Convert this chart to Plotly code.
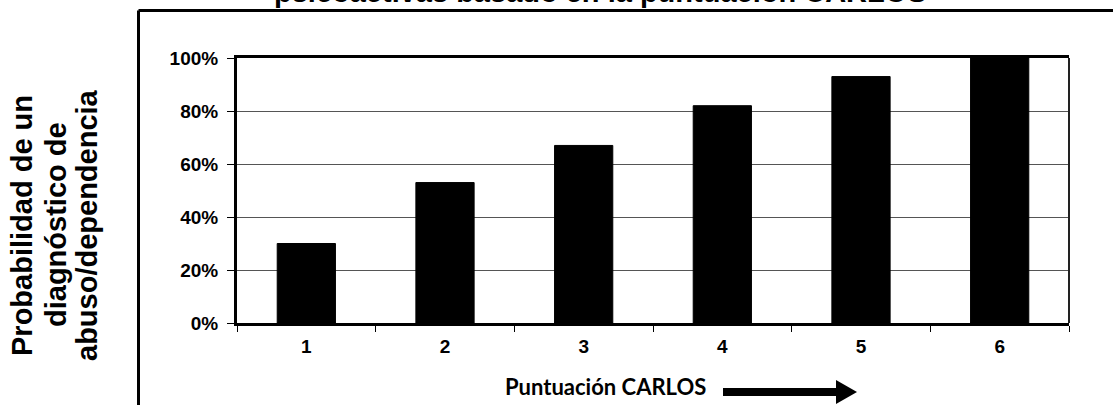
import plotly.graph_objects as go

# Data
categories = ["1", "2", "3", "4", "5", "6"]
probabilities = [0.30, 0.53, 0.67, 0.82, 0.93, 1.00]
y_ticks = [0, 0.2, 0.4, 0.6, 0.8, 1.0]
y_tick_labels = ["0%", "20%", "40%", "60%", "80%", "100%"]

title_text = "psicoactivas basado en la puntuación CARLOS"
x_title = "Puntuación CARLOS"
y_title_lines = ["Probabilidad de un", "diagnóstico de", "abuso/dependencia"]

W, H = 1113, 405
PL, PR, PT, PB = 237, 1069, 58, 323   # plot area in page pixels
L, R, T, B = PL, W - PR, PT, H - PB

ARIAL = "Liberation Sans, Arial"

fig = go.Figure(
    go.Bar(
        x=categories,
        y=probabilities,
        marker=dict(color="#000000", line=dict(color="#000000", width=1)),
        width=0.42,
    )
)

fig.update_layout(
    width=W,
    height=H,
    margin=dict(l=L, r=R, t=T, b=B, pad=0),
    paper_bgcolor="white",
    plot_bgcolor="white",
    showlegend=False,
    font=dict(family=ARIAL, color="black"),
)

fig.update_xaxes(
    type="category",
    tickson="boundaries",
    ticks="outside",
    ticklen=6,
    tickwidth=1,
    tickcolor="black",
    showline=True,
    linewidth=3,
    linecolor="black",
    mirror=True,
    showgrid=False,
    ticklabelstandoff=4,
    tickfont=dict(size=19, family=ARIAL, color="black", weight="bold"),
)

fig.update_yaxes(
    range=[0, 1],
    tickvals=y_ticks,
    ticktext=y_tick_labels,
    ticks="outside",
    ticklen=7,
    tickwidth=1,
    tickcolor="black",
    showline=True,
    linewidth=3,
    linecolor="black",
    showgrid=True,
    gridcolor="#555555",
    gridwidth=1,
    zeroline=False,
    ticklabelstandoff=5,
    tickfont=dict(size=19, family=ARIAL, color="black", weight="bold"),
)

pw = PR - PL
ph = PB - PT

def px_x(px):
    return (px - PL) / pw

def px_y(py):
    return (PB - py) / ph

shapes = [
    # right border of plot area
    dict(type="line", xref="paper", yref="paper", x0=1, x1=1, y0=0, y1=1,
         line=dict(color="#222222", width=2)),
    # outer frame (left and top)
    dict(type="line", xref="paper", yref="paper", x0=px_x(138.5), x1=px_x(138.5),
         y0=px_y(10.5), y1=px_y(430), line=dict(color="black", width=3)),
    dict(type="line", xref="paper", yref="paper", x0=px_x(138.5), x1=px_x(1140),
         y0=px_y(10.5), y1=px_y(10.5), line=dict(color="black", width=3)),
    # arrow shaft
    dict(type="line", xref="paper", yref="paper", x0=px_x(723), x1=px_x(838),
         y0=px_y(392), y1=px_y(392), line=dict(color="black", width=8)),
    # arrow head
    dict(type="path", xref="paper", yref="paper",
         path=f"M {px_x(836)} {px_y(380)} L {px_x(857)} {px_y(392)} L {px_x(836)} {px_y(404)} Z",
         fillcolor="black", line=dict(color="black", width=0)),
]

annotations = [
    dict(text=title_text, xref="paper", yref="paper", x=px_x(600), y=px_y(-8),
         xanchor="center", yanchor="middle", showarrow=False,
         font=dict(size=29, family=ARIAL, color="black", weight="bold")),
    dict(text=x_title, xref="paper", yref="paper", x=px_x(605), y=px_y(386),
         xanchor="center", yanchor="middle", showarrow=False,
         font=dict(size=22, family="Lato", color="black", weight="bold")),
]

y_line_centers = [22, 56, 87]
for txt, cx in zip(y_title_lines, y_line_centers):
    annotations.append(
        dict(text=txt, xref="paper", yref="paper", x=px_x(cx), y=px_y(225),
             xanchor="center", yanchor="middle", showarrow=False, textangle=-90,
             font=dict(size=29, family=ARIAL, color="black", weight="bold"))
    )

fig.update_layout(shapes=shapes, annotations=annotations)

fig.write_html(
    "out.html",
    config={"displayModeBar": False},
    post_script="document.body.style.margin='0px';",
)
